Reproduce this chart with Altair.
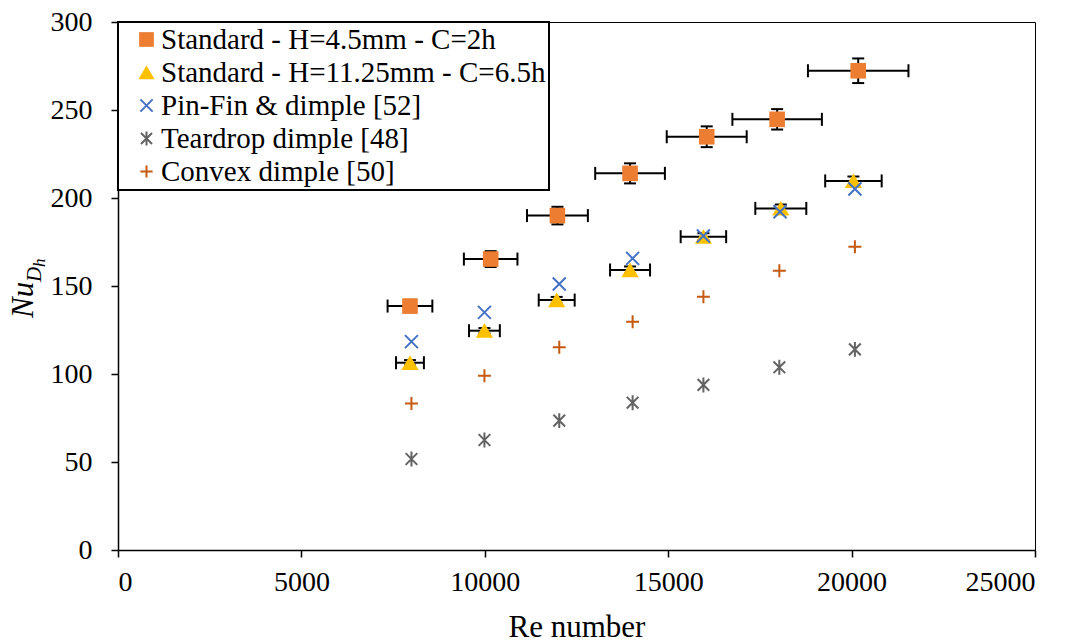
import altair as alt
import pandas as pd

# ---------------- data ----------------
series_names = [
    "Standard - H=4.5mm - C=2h",
    "Standard - H=11.25mm - C=6.5h",
    "Pin-Fin & dimple [52]",
    "Teardrop dimple [48]",
    "Convex dimple [50]",
]

std45_re = [7960, 10160, 11980, 13960, 16050, 17970, 20180]
std45_nu = [138.6, 165.3, 190.0, 214.0, 234.8, 244.7, 272.3]
std45_re_err = [610, 730, 830, 950, 1090, 1220, 1370]
std45_nu_err = [3.5, 4.5, 5.0, 5.7, 5.9, 5.8, 7.0]

std1125_re = [7960, 9990, 11960, 13960, 15960, 18070, 20050]
std1125_nu = [106.4, 124.6, 142.0, 159.1, 178.0, 194.1, 209.7]
std1125_re_err = [380, 420, 490, 545, 620, 695, 770]
std1125_nu_err = [1.5, 1.5, 1.8, 2.0, 2.0, 2.2, 2.5]

pinfin_re = [8000, 9990, 12030, 14030, 15960, 18050, 20090]
pinfin_nu = [118.4, 135.0, 151.1, 165.7, 178.4, 192.2, 205.1]

teardrop_re = [8000, 9990, 12030, 14030, 15960, 18030, 20090]
teardrop_nu = [51.7, 62.5, 73.5, 83.7, 93.8, 103.8, 114.0]

convex_re = [8000, 9990, 12030, 14030, 15960, 18030, 20090]
convex_nu = [83.3, 99.0, 115.2, 129.7, 143.9, 158.7, 172.3]

x_ticks = [0, 5000, 10000, 15000, 20000, 25000]
y_ticks = [0, 50, 100, 150, 200, 250, 300]

# ---------------- styling ----------------
fill_colors = ["#ED7D31", "#FFC000", "transparent", "transparent", "transparent"]
stroke_colors = ["transparent", "transparent", "#4472C4", "#636363", "#C55A11"]
SQ_PATH = "M-1.2,-1.2L1.2,-1.2L1.2,1.2L-1.2,1.2Z"
TRI_PATH = "M0,-1.15L1.32,1.1L-1.32,1.1Z"
X_PATH = "M-1,-1L1,1M-1,1L1,-1"
AST_PATH = "M-0.9,-0.9L0.9,0.9M-0.9,0.9L0.9,-0.9M0,-1.15L0,1.15"
PLUS_PATH = "M-1,0L1,0M0,-1L0,1"
shapes = [SQ_PATH, TRI_PATH, X_PATH, AST_PATH, PLUS_PATH]
FONT = "Liberation Serif"

# ---------------- tables ----------------
rows = []
all_series = [
    (std45_re, std45_nu, std45_re_err, std45_nu_err),
    (std1125_re, std1125_nu, std1125_re_err, std1125_nu_err),
    (pinfin_re, pinfin_nu, None, None),
    (teardrop_re, teardrop_nu, None, None),
    (convex_re, convex_nu, None, None),
]
for name, (re_vals, nu_vals, rerr, nerr) in zip(series_names, all_series):
    for i, (r, n) in enumerate(zip(re_vals, nu_vals)):
        rows.append({
            "series": name, "re": r, "nu": n,
            "has_err": rerr is not None,
            "re_lo": r - rerr[i] if rerr else r,
            "re_hi": r + rerr[i] if rerr else r,
            "nu_lo": n - nerr[i] if nerr else n,
            "nu_hi": n + nerr[i] if nerr else n,
        })
df = pd.DataFrame(rows)
err_df = df[df["has_err"]]

xscale = alt.Scale(domain=[0, 25000], nice=False, zero=False)
yscale = alt.Scale(domain=[0, 300], nice=False, zero=False)

x_axis = alt.Axis(values=x_ticks, format="d", title="Re number", titleFont=FONT,
                  titleFontSize=31, titleFontWeight="normal", titleColor="black",
                  titleY=86, titleBaseline="alphabetic", labelPadding=11, tickSize=7,
                  labelFont=FONT, labelFontSize=28, labelColor="black")
y_axis = alt.Axis(values=y_ticks, format="d", title=None, labelPadding=19, tickSize=7,
                  labelFont=FONT, labelFontSize=28, labelColor="black")

base_err = alt.Chart(err_df)

x_err_line = base_err.mark_rule(color="black", strokeWidth=2).encode(
    x=alt.X("re_lo:Q", scale=xscale, axis=x_axis),
    x2="re_hi:Q",
    y=alt.Y("nu:Q", scale=yscale, axis=y_axis),
)
x_cap_lo = base_err.mark_rule(color="black", strokeWidth=2, yOffset=-6.5, y2Offset=6.5).encode(
    x="re_lo:Q", y="nu:Q", y2="nu:Q")
x_cap_hi = base_err.mark_rule(color="black", strokeWidth=2, yOffset=-6.5, y2Offset=6.5).encode(
    x="re_hi:Q", y="nu:Q", y2="nu:Q")
y_err_line = base_err.mark_rule(color="black", strokeWidth=2).encode(
    x="re:Q", y="nu_lo:Q", y2="nu_hi:Q")
y_cap_lo = base_err.mark_rule(color="black", strokeWidth=2, xOffset=-6, x2Offset=6).encode(
    x="re:Q", x2="re:Q", y="nu_lo:Q")
y_cap_hi = base_err.mark_rule(color="black", strokeWidth=2, xOffset=-6, x2Offset=6).encode(
    x="re:Q", x2="re:Q", y="nu_hi:Q")

leg = alt.Legend(orient="none", legendX=0, legendY=0, title=None,
                 labelFont=FONT, labelFontSize=29, labelColor="black", labelLimit=700,
                 labelExpr="datum.label + '\u00a0\u00a0'",
                 symbolSize=150, symbolStrokeWidth=2, symbolOffset=11, labelOffset=0,
                 rowPadding=3, padding=3, fillColor="white", strokeColor="black")

points = alt.Chart(df).mark_point(opacity=1, strokeWidth=2, size=169).encode(
    x=alt.X("re:Q", scale=xscale),
    y=alt.Y("nu:Q", scale=yscale),
    shape=alt.Shape("series:N", scale=alt.Scale(domain=series_names, range=shapes), legend=leg),
    fill=alt.Fill("series:N", scale=alt.Scale(domain=series_names, range=fill_colors), legend=leg),
    stroke=alt.Stroke("series:N", scale=alt.Scale(domain=series_names, range=stroke_colors), legend=leg),
)

# y-axis title  Nu_{D_h}
def title_piece(txt, fsize, dx, dy):
    return alt.Chart(pd.DataFrame({"t": [txt]})).mark_text(
        font=FONT, fontStyle="italic", fontSize=fsize, angle=270, align="left",
        baseline="alphabetic", dx=dx, dy=dy, color="black"
    ).encode(text="t:N", x=alt.value(-85), y=alt.value(296))

t_nu = title_piece("Nu", 31, 0, 0)
t_d = title_piece("D", 21, 36, 8)
t_h = title_piece("h", 17, 51, 12)

chart = alt.layer(
    x_err_line, x_cap_lo, x_cap_hi, y_err_line, y_cap_lo, y_cap_hi, points, t_nu, t_d, t_h
).properties(
    width=917, height=528,
    autosize=alt.AutoSizeParams(type="none"),
    padding={"left": 118, "top": 22, "right": 43, "bottom": 92},
    background="white",
).configure_view(
    stroke="black", strokeWidth=1
).configure_axis(
    grid=False, domainColor="black", domainWidth=1.5, tickColor="black", tickWidth=1.5,
    labelFont=FONT, labelFontSize=28, labelColor="black"
).configure_legend(
    strokeWidth=2
)

chart.save("out.html", embed_options={"renderer": "svg", "actions": False})
